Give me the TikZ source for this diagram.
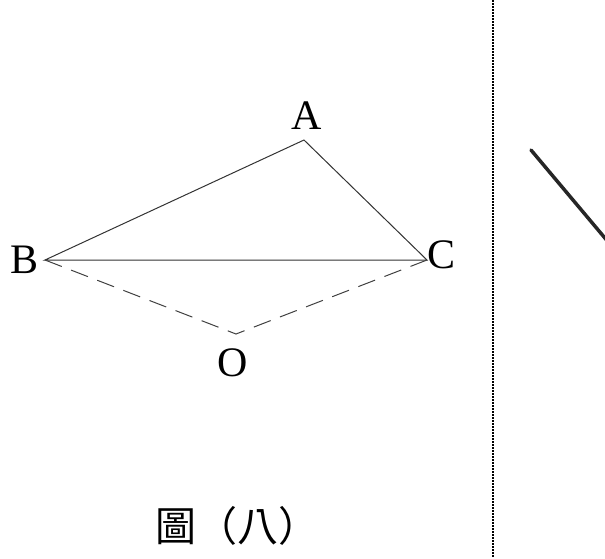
\documentclass[tikz,border=0pt]{standalone}
\usepackage{fontspec}
\setmainfont{Liberation Serif}
\newfontfamily\cjk{Noto Sans CJK TC}
\begin{document}
\begin{tikzpicture}[x=1pt,y=-1pt,
  lbl/.style={inner sep=0pt,anchor=base,font=\fontsize{42}{42}\selectfont},
  edge/.style={line width=1pt,draw=black!80},
  hidden/.style={line width=1pt,draw=black!75,dash pattern=on 18pt off 10pt}]
\useasboundingbox (0,0) rectangle (605,558);
\coordinate (A) at (304,140);
\coordinate (B) at (45,260);
\coordinate (C) at (427,260);
\coordinate (O) at (236,334);
\node[lbl] (lA) at (307,129) {A};
\node[lbl] (lB) at (25,273) {B};
\node[lbl] (lC) at (442,268) {C};
\node[lbl] (lO) at (233,376) {O};
\draw[edge] (B) -- (A) -- (C) -- cycle;
\draw[hidden] (B) -- (O) -- (C);
\node[inner sep=0pt,anchor=base,font=\cjk\fontsize{41}{41}\selectfont] (cap) at (237,541) {圖（八）};
\coordinate (d1) at (493,0);
\coordinate (d2) at (493,558);
\draw[line width=1.5pt,dash pattern=on 1.5pt off 1.5pt] (d1) -- (d2);
\begin{scope}
\clip (0,0) rectangle (605,558);
\coordinate (e1) at (531,150);
\coordinate (e2) at (620,256);
\draw[line width=3.5pt,line cap=round,draw=black!85] (e1) -- (e2);
\end{scope}
\end{tikzpicture}
\end{document}
